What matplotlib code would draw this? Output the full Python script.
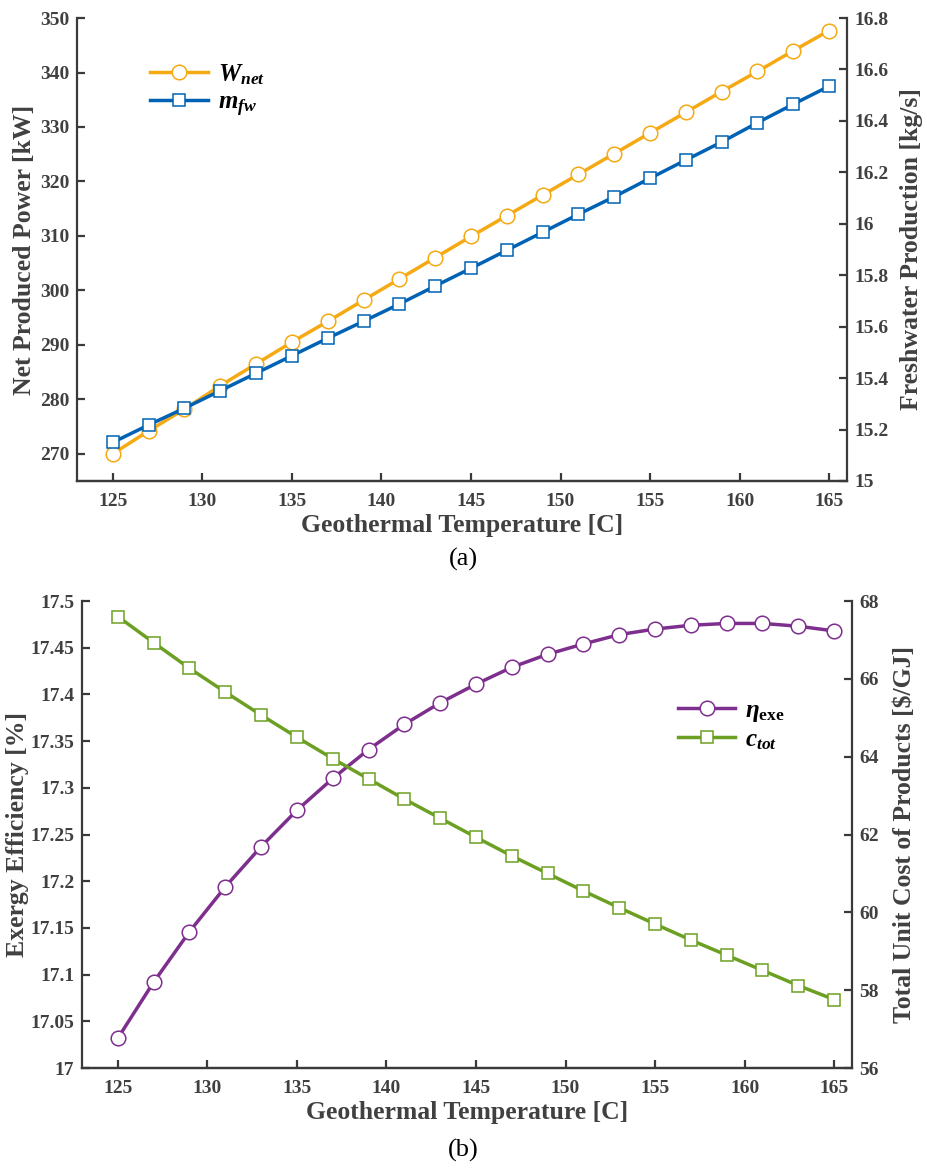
"""Figura de dos paneles: potencia neta / agua dulce y exergía / coste frente a T geotérmica."""

import matplotlib

matplotlib.use("Agg", force=True)
import matplotlib.pyplot as plt
from matplotlib.ticker import FuncFormatter

plt.rcParams["font.family"] = ["Liberation Serif", "DejaVu Serif"]
plt.rcParams["mathtext.fontset"] = "custom"
plt.rcParams["mathtext.rm"] = "Liberation Serif:bold"
plt.rcParams["mathtext.bf"] = "Liberation Serif:bold"
plt.rcParams["mathtext.it"] = "Liberation Serif:italic:bold"
plt.rcParams["mathtext.bfit"] = "Liberation Serif:italic:bold"

TEMPERATURE = [125, 127, 129, 131, 133, 135, 137, 139, 141, 143, 145,
               147, 149, 151, 153, 155, 157, 159, 161, 163, 165]

W_NET = [270.0, 274.2, 278.2, 282.5, 286.5, 290.5, 294.3, 298.2, 302.1, 306.0, 309.9,
         313.7, 317.5, 321.3, 325.1, 328.9, 332.7, 336.5, 340.2, 344.0, 347.7]
M_FW = [15.150, 15.218, 15.283, 15.351, 15.419, 15.487, 15.555, 15.621, 15.688, 15.758, 15.827,
        15.897, 15.967, 16.037, 16.105, 16.177, 16.248, 16.318, 16.393, 16.465, 16.535]

ETA_EXE = [17.032, 17.092, 17.146, 17.194, 17.237, 17.276, 17.310, 17.341, 17.368, 17.391, 17.411,
           17.429, 17.443, 17.454, 17.464, 17.470, 17.474, 17.476, 17.476, 17.473, 17.468]
C_TOT = [67.60, 66.93, 66.27, 65.66, 65.07, 64.50, 63.95, 63.43, 62.91, 62.42, 61.93,
         61.45, 61.00, 60.55, 60.12, 59.70, 59.29, 58.90, 58.51, 58.12, 57.76]

ORANGE = "#F5A912"
BLUE = "#0062B4"
PURPLE = "#7E2F8E"
GREEN = "#6CA022"
AXIS_GRAY = "#3a3a3a"
TEXT_GRAY = "#404040"

TICK_SIZE = 14
LABEL_SIZE = 18.5
LEGEND_SIZE = 18


def style_axes(ax, ax_right):
    """Ejes estilo MATLAB: sin spine superior, ticks hacia dentro."""
    for a in (ax, ax_right):
        a.spines["top"].set_visible(False)
        for side in ("left", "right", "bottom"):
            a.spines[side].set_color(AXIS_GRAY)
            a.spines[side].set_linewidth(1.6)
        a.tick_params(direction="in", length=6, width=1.6, color=AXIS_GRAY,
                      labelsize=TICK_SIZE, labelcolor=TEXT_GRAY)
        a.tick_params(axis="x", pad=8.5)
        a.tick_params(axis="y", pad=5.5)
        for lab in a.get_xticklabels() + a.get_yticklabels():
            lab.set_fontweight("bold")
    ax_right.spines["left"].set_visible(False)
    ax.spines["right"].set_visible(False)


def line_kw(color, marker, size):
    return dict(color=color, lw=2.5, marker=marker, markersize=size,
                markerfacecolor="white", markeredgecolor=color, markeredgewidth=1.1)


def label_kw(pad):
    return dict(fontsize=LABEL_SIZE, fontweight="bold", color=TEXT_GRAY, labelpad=pad)


fig = plt.figure(figsize=(9.27, 11.72), dpi=100)
g_fmt = FuncFormatter(lambda v, _: f"{v:g}")

# ---- panel (a) ----
ax1 = fig.add_axes([0.0831, 0.5896, 0.8306, 0.395])
ax1r = ax1.twinx()
h1, = ax1.plot(TEMPERATURE, W_NET, **line_kw(ORANGE, "o", 10.5))
h2, = ax1r.plot(TEMPERATURE, M_FW, **line_kw(BLUE, "s", 9))
ax1.set_xlim(123, 166)
ax1.set_ylim(265, 350)
ax1r.set_ylim(15, 16.8)
ax1.set_xticks(range(125, 166, 5))
ax1.set_yticks(range(270, 351, 10))
ax1r.set_yticks([15 + 0.2 * i for i in range(10)])
ax1r.yaxis.set_major_formatter(g_fmt)
ax1.set_xlabel("Geothermal Temperature [C]", **label_kw(3))
ax1.set_ylabel("Net Produced Power [kW]", **label_kw(3))
ax1r.set_ylabel("Freshwater Production [kg/s]", **label_kw(8))
style_axes(ax1, ax1r)
ax1.legend([h1, h2], [r"$\mathbfit{W}_{\mathbfit{net}}$", r"$\mathbfit{m}_{\mathbfit{fw}}$"],
           loc="upper left", bbox_to_anchor=(0.095, 0.905), frameon=False,
           fontsize=LEGEND_SIZE, borderpad=0, borderaxespad=0,
           handlelength=2.3, handletextpad=0.4, labelspacing=0.2)
fig.text(0.5, 0.5225, "(a)", ha="center", va="center", fontsize=19, color="black")

# ---- panel (b) ----
ax2 = fig.add_axes([0.0885, 0.0887, 0.8306, 0.3985])
ax2r = ax2.twinx()
h3, = ax2.plot(TEMPERATURE, ETA_EXE, **line_kw(PURPLE, "o", 10.5))
h4, = ax2r.plot(TEMPERATURE, C_TOT, **line_kw(GREEN, "s", 9))
ax2.set_xlim(123, 166)
ax2.set_ylim(17, 17.5)
ax2r.set_ylim(56, 68)
ax2.set_xticks(range(125, 166, 5))
ax2.set_yticks([17 + 0.05 * i for i in range(11)])
ax2.yaxis.set_major_formatter(g_fmt)
ax2r.set_yticks(range(56, 69, 2))
ax2.set_xlabel("Geothermal Temperature [C]", **label_kw(3))
ax2.set_ylabel("Exergy Efficiency [%]", **label_kw(1))
ax2r.set_ylabel(r"Total Unit Cost of Products [\$/GJ]", **label_kw(10))
style_axes(ax2, ax2r)
ax2.legend([h3, h4], [r"$\mathbfit{\eta}_{\mathbf{exe}}$", r"$\mathbfit{c}_{\mathbfit{tot}}$"],
           loc="upper left", bbox_to_anchor=(0.774, 0.79), frameon=False,
           fontsize=LEGEND_SIZE, borderpad=0, borderaxespad=0,
           handlelength=2.3, handletextpad=0.4, labelspacing=0.2)
fig.text(0.5, 0.018, "(b)", ha="center", va="center", fontsize=19, color="black")

fig.savefig("out.png", dpi=100)
